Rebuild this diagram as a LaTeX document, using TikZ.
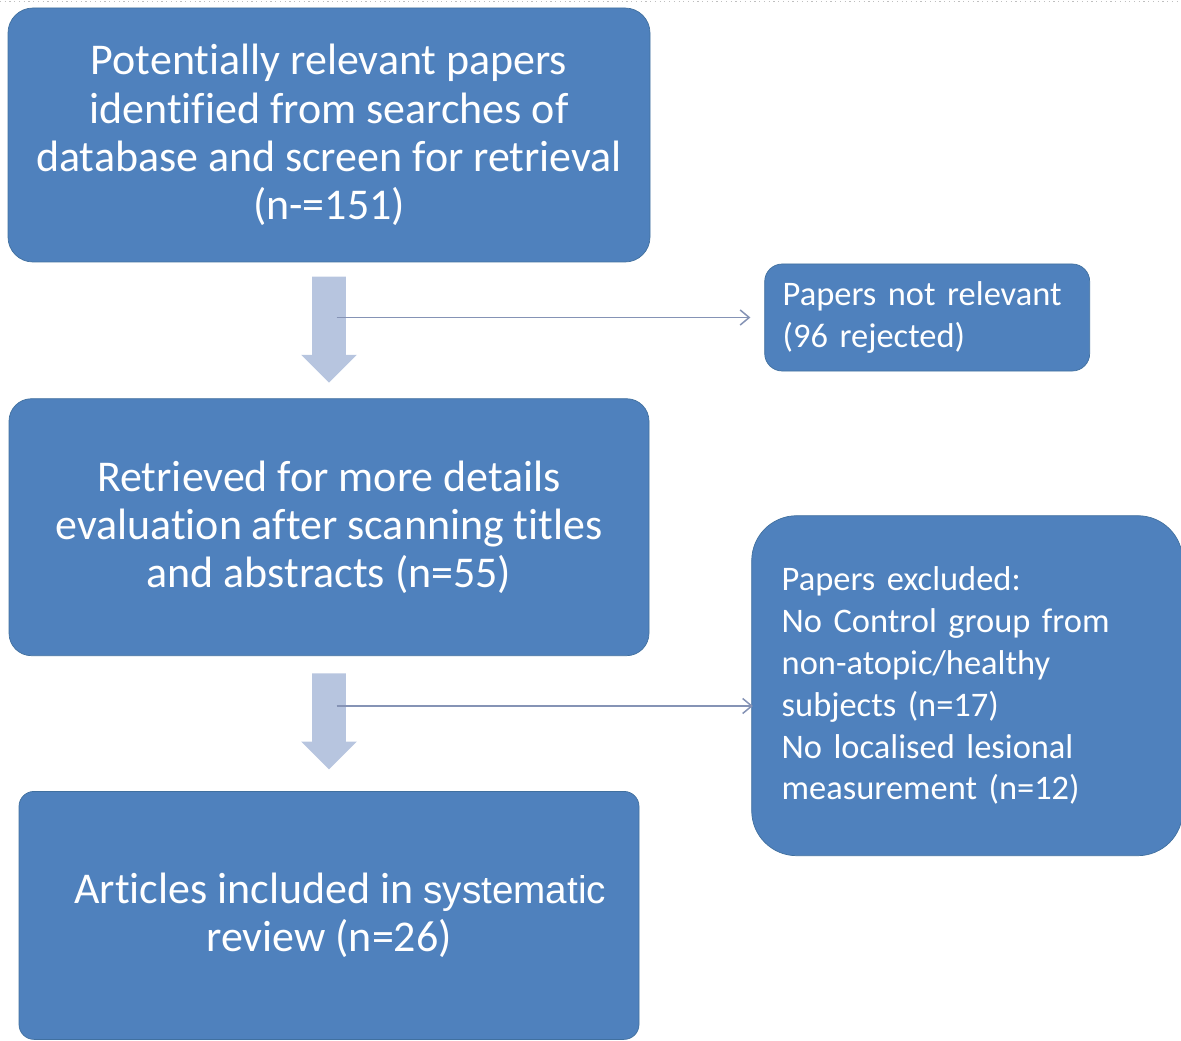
\documentclass[tikz,border=0pt]{standalone}
\usepackage{xcolor}
\usepackage{fontspec}
\setmainfont{Carlito}[Ligatures=CommonOff]
\newfontfamily\arialfont{Liberation Sans}
\usepackage{tikz}
\usetikzlibrary{shapes,arrows.meta,positioning}

\definecolor{boxblue}{HTML}{4F81BD}
\definecolor{boxedge}{HTML}{41709F}
\definecolor{flowblue}{HTML}{B7C5DF}
\definecolor{lineblue}{HTML}{8593B5}
\newcommand\tightspace{\spaceskip=0.18em plus 0.05em\relax}

\begin{document}
\begin{tikzpicture}[
    node distance=2.7cm,
    box/.style={rectangle, draw=boxedge, fill=boxblue, text=white, align=center, rounded corners=0.45cm, font=\fontsize{25}{27.5}\selectfont},
    sidebox/.style={rectangle, draw=boxedge, fill=boxblue, text=white, align=left, font=\fontsize{19.6}{23.8}\selectfont\tightspace},
    flow/.style={single arrow, draw=none, fill=flowblue, rotate=-90, inner xsep=0pt, inner ysep=0.33cm, single arrow head extend=0.22cm, minimum width=1.1cm},
    side/.style={draw=lineblue, line width=0.85pt, -{Straight Barb[length=0.18cm,width=0.3cm]}}
]
    \useasboundingbox (0,0) rectangle (23.62,-20.82);
    \draw[dotted, gray!50, line width=0.7pt] (0,-0.03) -- (23.62,-0.03);

    % Main column
    \node[box, minimum width=12.84cm, minimum height=5.08cm, rounded corners=0.5cm] (search) at (6.58,-2.7) {Potentially relevant papers\\identified from searches of\\database and screen for retrieval\\(n-=151)};
    \node[box, below=2.72cm of search, minimum width=12.8cm, minimum height=5.14cm] (retrieved) {Retrieved for more details\\evaluation after scanning titles\\and abstracts (n=55)};
    \node[box, below=of retrieved, minimum width=12.4cm, minimum height=4.96cm, rounded corners=0.3cm] (included) {\hspace*{0.45cm}Articles included in {\arialfont\fontsize{22}{27}\selectfont systematic}\\review (n=26)};

    % Flow arrows
    \node[flow, below=0.28cm of search, anchor=west, minimum height=2.12cm] (down1) {};
    \node[flow, below=0.34cm of retrieved, anchor=west, minimum height=1.92cm] (down2) {};

    % Exclusions
    \node[sidebox, right=2.28cm of search, yshift=-3.65cm, text width=5.78cm, inner xsep=0.36cm, minimum height=2.14cm, rounded corners=0.35cm] (notrel) {Papers not relevant\\(96 rejected)};
    \node[sidebox, right=2.04cm of retrieved, yshift=-3.17cm, text width=7.42cm, inner xsep=0.6cm, minimum height=6.8cm, rounded corners=0.9cm] (excl) {Papers excluded:\\No Control group from\\non-atopic/healthy\\subjects (n=17)\\No localised lesional\\measurement (n=12)};

    % Connections
    \draw[side, shorten <=0.15cm, shorten >=0.28cm] (down1 |- notrel.west) -- (notrel.west);
    \draw[side, shorten >=0.12cm] ([shift={(0.15,0.14)}]down2.center) -- ([shift={(0.15,0.14)}]down2.center -| excl.west);
\end{tikzpicture}
\end{document}
